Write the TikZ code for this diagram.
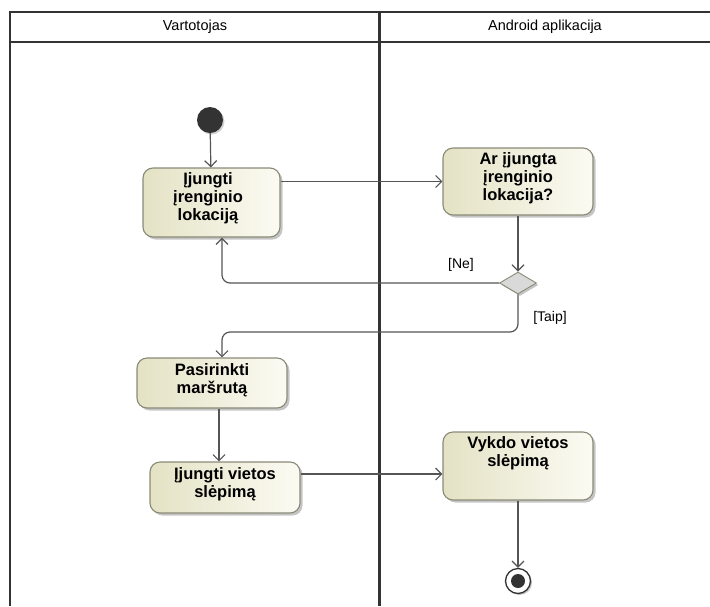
\documentclass[tikz,border=0pt]{standalone}
\usepackage{fontspec}
\setmainfont{Liberation Sans}
\usetikzlibrary{arrows.meta,shapes.geometric,shadows}
\definecolor{frameline}{HTML}{333333}
\definecolor{boxedge}{HTML}{8A8A78}
\definecolor{boxdark}{HTML}{E4E2C4}
\definecolor{boxlight}{HTML}{FBFBF3}
\definecolor{flowline}{HTML}{555555}
\definecolor{nodedark}{HTML}{333333}
\begin{document}
\begin{tikzpicture}[x=1pt,y=-1pt,
  frame/.style={draw=frameline, line width=2.2pt},
  act/.style={draw=boxedge, line width=1.1pt, rounded corners=10pt,
    shading=axis, shading angle=135, left color=boxdark, right color=boxlight,
    drop shadow={shadow xshift=2.5pt, shadow yshift=-2.5pt, fill=black!45, opacity=0.5}},
  acttext/.style={font=\bfseries\fontsize{16.5}{18}\selectfont, align=center, inner sep=0pt, anchor=north},
  guard/.style={font=\fontsize{14}{16}\selectfont, inner sep=0pt},
  lanehead/.style={font=\fontsize{14.5}{16}\selectfont, inner sep=0pt},
  flow/.style={draw=flowline, line width=1.2pt, -{Straight Barb[length=6pt,width=12pt]}},
  decision/.style={diamond, draw=boxedge, fill=black!15, line width=0.9pt, inner sep=0pt,
    minimum width=37pt, minimum height=22pt,
    drop shadow={shadow xshift=2pt, shadow yshift=-2pt, fill=black!45, opacity=0.5}}]

\useasboundingbox (0,0) rectangle (710,606);

% swimlane frame
\draw[frame] (710,12) -- (10,12) -- (10,606);
\draw[frame] (10,42) -- (710,42);
\draw[frame, line width=3pt] (379,12) -- (379,606);
\node[lanehead] (h1) at (195,27) {Vartotojas};
\node[lanehead] (h2) at (545,27) {Android aplikacija};

% start and end
\node[circle, fill=nodedark, minimum size=26pt, inner sep=0pt,
  drop shadow={shadow xshift=1.5pt, shadow yshift=-1.5pt, fill=black!45, opacity=0.4}] (start) at (210,120) {};
\node[circle, draw=nodedark, fill=white, line width=1.3pt, minimum size=25pt, inner sep=0pt,
  drop shadow={shadow xshift=1.5pt, shadow yshift=-1.5pt, fill=black!45, opacity=0.5}] (final) at (518,581) {};
\node[circle, fill=nodedark, minimum size=14pt, inner sep=0pt] (finaldot) at (final.center) {};

% actions
\node[act, minimum width=137pt, minimum height=69pt] (b1) at (211.5,202.5) {};
\node[acttext] (t1) at (208,172) {Įjungti\\įrenginio\\lokaciją};

\node[act, minimum width=150pt, minimum height=67pt] (b2) at (518,181.5) {};
\node[acttext] (t2) at (518,152) {Ar įjungta\\įrenginio\\lokacija?};

\node[act, minimum width=150pt, minimum height=50pt] (b3) at (212,383) {};
\node[acttext] (t3) at (212,363) {Pasirinkti\\maršrutą};

\node[act, minimum width=150pt, minimum height=51pt] (b4) at (225,487.5) {};
\node[acttext] (t4) at (225,467) {Įjungti vietos\\slėpimą};

\node[act, minimum width=150pt, minimum height=68pt] (b5) at (518,466) {};
\node[acttext] (t5) at (518,436) {Vykdo vietos\\slėpimą};

% decision
\node[decision] (d) at (518,283) {};
\node[guard] (ne) at (461,265) {[Ne]};
\node[guard] (taip) at (550,318) {[Taip]};

% control flows
\draw[flow] (start) -- (b1);
\draw[flow] (b1.east |- b2.west) -- (b2.west);
\draw[flow] (b2.south) -- (d.north);
\draw[flow, rounded corners=8pt] (d.west) -| ([xshift=10.5pt]b1.south);
\coordinate (bend) at (222,332);
\draw[flow, rounded corners=8pt] (d.south) |- (bend) -- (bend |- b3.north);
\draw[flow] ([xshift=7pt]b3.south) -- ([xshift=7pt]b3.south |- b4.north);
\coordinate (in5) at ([yshift=-8pt]b5.west);
\draw[flow] (b4.east |- in5) -- (in5);
\draw[flow] (b5.south) -- (final.north);
\end{tikzpicture}
\end{document}
